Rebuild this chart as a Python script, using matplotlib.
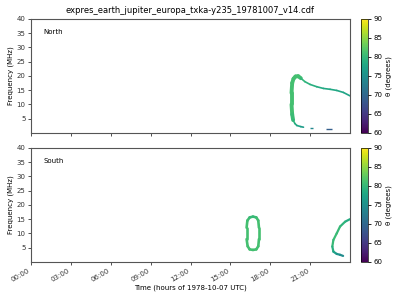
import matplotlib
matplotlib.use("Agg")
import matplotlib.pyplot as plt
import numpy as np
from matplotlib.collections import LineCollection
from matplotlib.colors import Normalize

title = "expres_earth_jupiter_europa_txka-y235_19781007_v14.cdf"
tick_hours = [0, 3, 6, 9, 12, 15, 18, 21]
tick_labels = ["00:00", "03:00", "06:00", "09:00", "12:00", "15:00", "18:00", "21:00"]
yticks = [5, 10, 15, 20, 25, 30, 35, 40]
cbar_ticks = [60, 65, 70, 75, 80, 85, 90]

# North hemisphere: thick left branch of the arc
north_left_t = [20.30, 20.10, 19.90, 19.75, 19.65, 19.60, 19.60, 19.65, 19.72]
north_left_f = [19.2, 19.9, 19.8, 19.0, 17.5, 14.0, 10.0, 6.5, 4.5]
north_left_th = [80.5, 81, 81, 81, 81, 81, 81, 81, 80]

# North: thin right branch
north_right_t = [24.0, 23.5, 23.0, 22.5, 22.0, 21.5, 21.0, 20.6, 20.3]
north_right_f = [13.0, 14.2, 14.9, 15.3, 15.6, 16.2, 17.0, 18.0, 19.2]
north_right_th = [77.5, 77.5, 78, 78, 78, 78.5, 79, 79.5, 80]

# North: low-frequency tail
north_tail_t = [19.72, 19.85, 20.00, 20.30, 20.50]
north_tail_f = [4.5, 3.3, 2.6, 2.2, 2.0]
north_tail_th = [80, 79, 78, 77, 76]

# North: isolated dashes
dash1_t = [21.0, 21.25]
dash1_f = [1.7, 1.7]
dash1_th = [74, 74]
dash2_t = [22.2, 22.65]
dash2_f = [1.4, 1.4]
dash2_th = [69, 69]

# South hemisphere: closed loop
south_loop_t = [16.70, 16.95, 17.10, 17.15, 17.15, 17.10, 16.95, 16.70, 16.45,
                16.30, 16.22, 16.22, 16.28, 16.45, 16.70]
south_loop_f = [15.9, 15.6, 14.5, 12.0, 8.0, 5.5, 4.4, 4.2, 4.4,
                5.5, 8.0, 12.0, 14.5, 15.6, 15.9]
south_loop_th = [80, 80.5, 81, 81, 81, 81, 81, 81, 81, 81, 81, 81, 81, 80.5, 80]

# South: arc at end of day
south_arc_t = [24.0, 23.63, 23.25, 23.0, 22.75, 22.67, 22.75, 23.0, 23.25, 23.48]
south_arc_f = [15.0, 14.1, 12.4, 10.0, 7.7, 5.4, 3.6, 2.8, 2.5, 2.1]
south_arc_th = [78, 79, 80, 80.5, 80.5, 80, 78, 76, 75, 74]

cmap = plt.get_cmap("viridis")
norm = Normalize(60, 90)

fig = plt.figure(figsize=(4, 3), dpi=100)
ax1 = fig.add_axes([0.0775, 0.557, 0.7975, 0.38])
ax2 = fig.add_axes([0.0775, 0.127, 0.7975, 0.38])
cax1 = fig.add_axes([0.9025, 0.557, 0.0175, 0.38])
cax2 = fig.add_axes([0.9025, 0.127, 0.0175, 0.38])


def draw(ax, t, f, th, lw, cap="round"):
    pts = np.column_stack([t, f])
    segs = np.stack([pts[:-1], pts[1:]], axis=1)
    vals = 0.5 * (np.array(th[:-1]) + np.array(th[1:]))
    lc = LineCollection(segs, cmap=cmap, norm=norm, linewidths=lw, capstyle=cap,
                        joinstyle="round")
    lc.set_array(vals)
    ax.add_collection(lc)
    return lc


draw(ax1, north_left_t, north_left_f, north_left_th, 2.8)
draw(ax1, north_right_t, north_right_f, north_right_th, 1.2)
draw(ax1, north_tail_t, north_tail_f, north_tail_th, 1.2)
draw(ax1, dash1_t, dash1_f, dash1_th, 1.0, "butt")
draw(ax1, dash2_t, dash2_f, dash2_th, 1.0, "butt")
draw(ax2, south_loop_t, south_loop_f, south_loop_th, 1.9)
draw(ax2, south_arc_t, south_arc_f, south_arc_th, 1.6)

for ax, name in [(ax1, "North"), (ax2, "South")]:
    ax.set_xlim(0, 24)
    ax.set_ylim(0, 40)
    ax.set_yticks(yticks)
    ax.set_xticks(tick_hours)
    ax.tick_params(labelsize=5, length=2.5, width=0.6, pad=1.5, colors="#333333")
    ax.set_ylabel("Frequency (MHz)", fontsize=5, labelpad=2)
    ax.text(0.038, 0.91, name, transform=ax.transAxes, fontsize=5, va="top")
    for s in ax.spines.values():
        s.set_linewidth(0.8)
        s.set_color("#555555")

ax1.set_xticklabels([])
ax2.set_xticklabels(tick_labels, rotation=30, ha="right")
ax2.set_xlabel("Time (hours of 1978-10-07 UTC)", fontsize=5, labelpad=1)
ax1.set_title(title, fontsize=6, pad=4)

sm = plt.cm.ScalarMappable(norm=norm, cmap=cmap)
for cax in (cax1, cax2):
    cb = fig.colorbar(sm, cax=cax, ticks=cbar_ticks)
    cb.ax.tick_params(labelsize=5, length=2.5, width=0.6, pad=1.5)
    cb.set_label("θ (degrees)", fontsize=5, labelpad=2)
    cb.outline.set_linewidth(0.5)

fig.savefig("out.png", dpi=100)
